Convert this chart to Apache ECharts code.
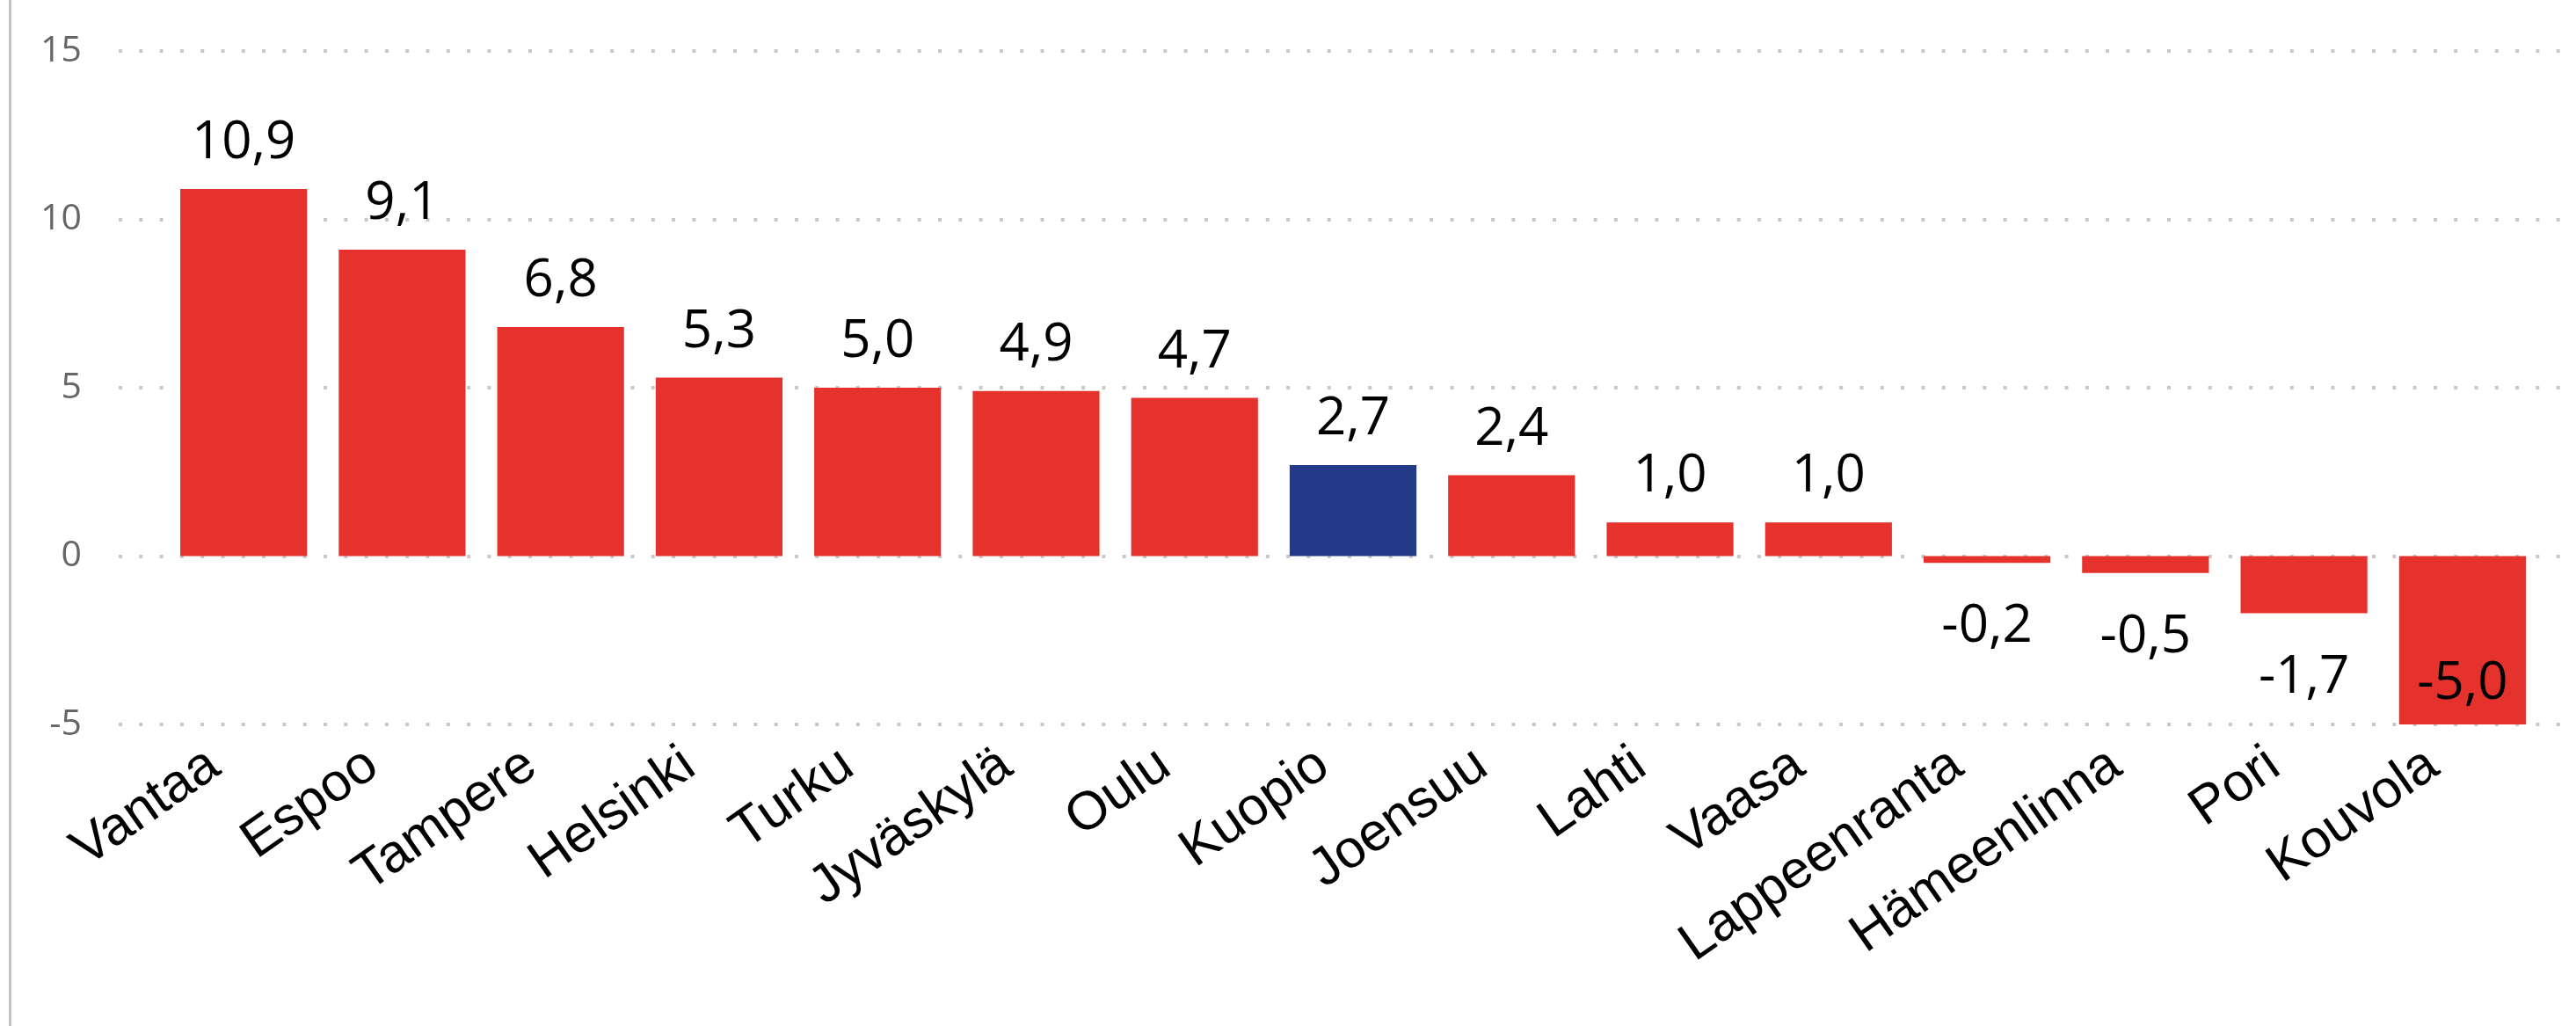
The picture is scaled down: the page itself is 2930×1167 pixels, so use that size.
<!DOCTYPE html>
<html>
<head>
<meta charset="utf-8">
<style>
  html, body { margin: 0; padding: 0; background: #ffffff; }
  #chart { width: 2930px; height: 1167px; }
</style>
<script src="https://cdn.jsdelivr.net/npm/echarts@6/dist/echarts.min.js"></script>
</head>
<body>
<div id="chart"></div>
<script>
// ---- Data ----
const categories = ['Vantaa', 'Espoo', 'Tampere', 'Helsinki', 'Turku', 'Jyväskylä', 'Oulu', 'Kuopio', 'Joensuu', 'Lahti', 'Vaasa', 'Lappeenranta', 'Hämeenlinna', 'Pori', 'Kouvola'];
const values = [10.9, 9.1, 6.8, 5.3, 5.0, 4.9, 4.7, 2.7, 2.4, 1.0, 1.0, -0.2, -0.5, -1.7, -5.0];
const highlightCategory = 'Kuopio';
const yMin = -5;
const yMax = 15;
const yInterval = 5;

// ---- Styles ----
const RED = '#E5322C';
const BLUE = '#233A88';
const TOP = 58;
const BOTTOM = 343;

const fmt = v => v.toFixed(1).replace('.', ',');

const seriesData = values.map((v, i) => {
  let label;
  if (v >= 0) {
    label = { position: 'top', distance: 22 };
  } else if (v - 1.5 < yMin) {
    label = { position: 'insideBottom', distance: 16 };
  } else {
    label = { position: 'bottom', distance: 43 };
  }
  return {
    value: v,
    itemStyle: { color: categories[i] === highlightCategory ? BLUE : RED },
    label: label
  };
});

const chart = echarts.init(document.getElementById('chart'), null, { renderer: 'canvas' });
chart.setOption({
  animation: false,
  backgroundColor: '#ffffff',
  graphic: [{
    type: 'rect',
    shape: { x: 10, y: 0, width: 3, height: 1167 },
    style: { fill: '#c2c2c2' },
    silent: true
  }],
  grid: [
    { left: 135, right: 0, top: TOP, bottom: BOTTOM, containLabel: false },
    { left: 187, right: 39, top: TOP, bottom: BOTTOM, containLabel: false }
  ],
  xAxis: [
    { gridIndex: 0, type: 'category', data: [''], show: false },
    {
      gridIndex: 1,
      type: 'category',
      data: categories,
      axisLine: { show: false, onZero: false },
      axisTick: { show: false },
      splitLine: { show: false },
      axisLabel: {
        interval: 0,
        rotate: 35,
        margin: 17,
        padding: [0, 41, 0, 0],
        color: '#000000',
        fontSize: 61,
        fontFamily: '"Liberation Sans", Arial, sans-serif'
      }
    }
  ],
  yAxis: [
    {
      gridIndex: 0,
      type: 'value',
      min: yMin,
      max: yMax,
      interval: yInterval,
      axisLine: { show: false },
      axisTick: { show: false },
      axisLabel: {
        color: '#666666',
        fontSize: 41,
        margin: 42,
        fontFamily: '"Open Sans", sans-serif'
      },
      splitLine: {
        show: true,
        lineStyle: { color: '#c8c8c8', width: 4, type: [4, 19.3], cap: 'butt' }
      }
    },
    {
      gridIndex: 1,
      type: 'value',
      min: yMin,
      max: yMax,
      interval: yInterval,
      show: false,
      splitLine: { show: false }
    }
  ],
  series: [{
    type: 'bar',
    xAxisIndex: 1,
    yAxisIndex: 1,
    barCategoryGap: '20%',
    data: seriesData,
    label: {
      show: true,
      color: '#000000',
      fontSize: 60,
      fontFamily: '"Open Sans", sans-serif',
      formatter: p => fmt(p.value)
    }
  }]
});
</script>
</body>
</html>
